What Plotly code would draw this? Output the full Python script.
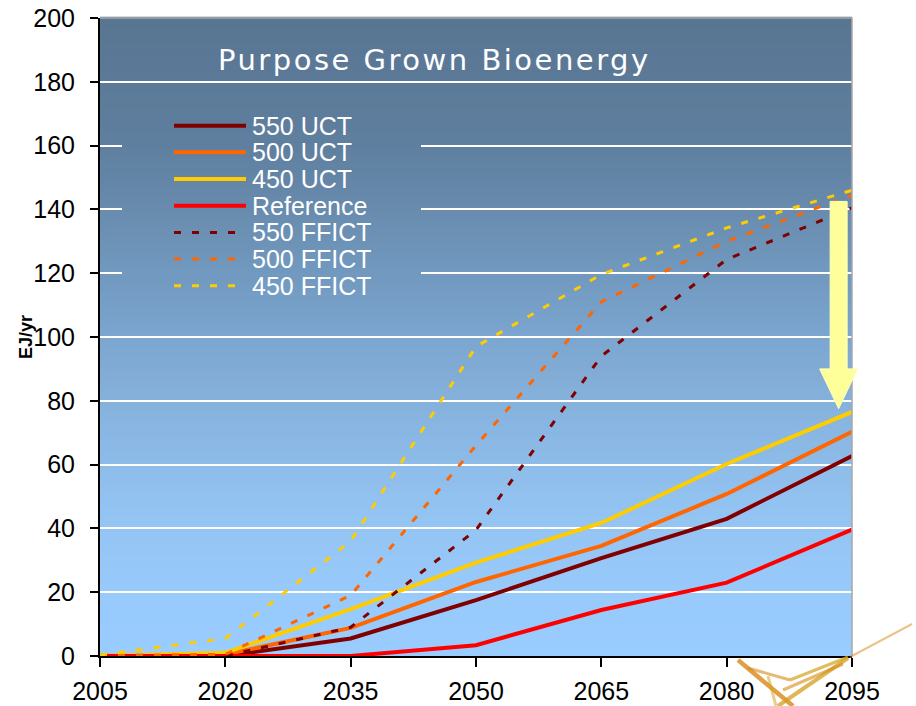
import plotly.graph_objects as go

# ---- data (EJ/yr) ----
YEARS = [2005, 2020, 2035, 2050, 2065, 2080, 2095]
UCT_550 = [0, 0, 5.5, 17.5, 30.7, 43, 62.7]
UCT_500 = [0, 0.5, 8.8, 23.2, 34.5, 50.8, 70.3]
UCT_450 = [0, 1, 14.7, 29.3, 41.7, 60.2, 76.5]
REFERENCE = [0, 0, 0, 3.4, 14.4, 23, 39.6]
FFICT_550 = [0, 0, 9, 39.5, 94, 124.3, 140.5]
FFICT_500 = [0.2, 0.5, 19, 66, 111, 130, 144.5]
FFICT_450 = [0.3, 5.5, 36, 97, 119.6, 134.2, 146]

SERIES_NAMES = ["550 UCT", "500 UCT", "450 UCT", "Reference",
                "550 FFICT", "500 FFICT", "450 FFICT"]
Y_TICKS = list(range(0, 201, 20))
TITLE = "Purpose Grown Bioenergy"
Y_LABEL = "EJ/yr"

# arrow from the FFICT level down to the UCT level near the end of the century
ARROW_YEAR = 2093.4
ARROW_FROM = 142.5
ARROW_TO = 77.5

# ---- styling ----
DARK_RED, ORANGE, GOLD, RED = "#800000", "#FF6600", "#FFCC00", "#FF0000"
series = [
    (UCT_550, DARK_RED, None, 4),
    (UCT_500, ORANGE, None, 4),
    (UCT_450, GOLD, None, 4),
    (REFERENCE, RED, None, 4),
    (FFICT_550, DARK_RED, "7px,11px", 3),
    (FFICT_500, ORANGE, "7px,11px", 3),
    (FFICT_450, GOLD, "7px,11px", 3),
]

W, H = 916, 706
ML, MR, MT, MB = 100, 64, 18, 50
PW, PH = W - ML - MR, H - MT - MB
X0, X1 = YEARS[0], YEARS[-1]
Y0, Y1 = 0, 200

fig = go.Figure()
for (vals, color, dash, width), name in zip(series, SERIES_NAMES):
    fig.add_trace(go.Scatter(
        x=YEARS, y=vals, name=name, mode="lines",
        line=dict(color=color, width=width, dash=dash or "solid"),
        cliponaxis=False, showlegend=False,
    ))

# vertical gradient of the plotting area
GRAD = [(0.0, (153, 204, 255)), (0.09, (152, 202, 252)), (0.245, (146, 194, 240)),
        (0.46, (128, 170, 212)), (0.5, (123, 166, 208)), (0.71, (103, 138, 172)),
        (0.79, (96, 128, 160)), (1.0, (88, 117, 145))]


def grad_color(t):
    for (t0, c0), (t1, c1) in zip(GRAD[:-1], GRAD[1:]):
        if t0 <= t <= t1:
            f = (t - t0) / (t1 - t0)
            return "rgb(%d,%d,%d)" % tuple(round(a + (b - a) * f) for a, b in zip(c0, c1))
    return "rgb(%d,%d,%d)" % GRAD[-1][1]


shapes = []
N = 128
for i in range(N):
    y0, y1 = i / N, (i + 1) / N
    shapes.append(dict(type="rect", xref="paper", yref="paper", x0=0, x1=1,
                       y0=y0, y1=y1 + 0.002, layer="below", line_width=0,
                       fillcolor=grad_color((y0 + y1) / 2)))

# legend box: same gradient, hides the grid lines behind the key
LX0, LX1 = 22 / PW, 321 / PW
LY0, LY1 = (PH - 282) / PH, (PH - 82) / PH
for i in range(N):
    y0, y1 = i / N, (i + 1) / N
    if y1 <= LY0 or y0 >= LY1:
        continue
    shapes.append(dict(type="rect", xref="paper", yref="paper", x0=LX0, x1=LX1,
                       y0=max(y0, LY0), y1=min(y1 + 0.002, LY1), layer="above",
                       line_width=0, fillcolor=grad_color((y0 + y1) / 2)))

# legend key samples
annotations = []
for i, ((vals, color, dash, width), name) in enumerate(zip(series, SERIES_NAMES)):
    ypx = 107.7 + i * 26.67
    yp = (PH - ypx) / PH
    shapes.append(dict(type="line", xref="paper", yref="paper",
                       x0=74 / PW, x1=146 / PW, y0=yp, y1=yp, layer="above",
                       line=dict(color=color, width=width, dash=dash or "solid")))
    annotations.append(dict(text=name, xref="paper", yref="paper", x=151 / PW, y=yp,
                            xanchor="left", yanchor="middle", showarrow=False,
                            height=24, valign="middle", borderpad=0,
                            font=dict(family="Liberation Sans, Arial", size=25, color="white")))

# frame on top and right
shapes.append(dict(type="path", xref="paper", yref="paper", path="M0,1 L1,1 L1,0",
                   line=dict(color="#A8A8A8", width=1.5), layer="above"))

# big arrow
px = (ARROW_YEAR - X0) / (X1 - X0)
sw, hw = 8.5 / PW, 19 / PW
yt, yb, ytip = ARROW_FROM / Y1, (ARROW_TO + 12.5) / Y1, ARROW_TO / Y1
arrow = (f"M{px - sw},{yt} L{px + sw},{yt} L{px + sw},{yb} L{px + hw},{yb} "
         f"L{px},{ytip} L{px - hw},{yb} L{px - sw},{yb} Z")
shapes.append(dict(type="path", xref="paper", yref="paper", path=arrow,
                   fillcolor="#FFFF99", line=dict(color="#FFFFC0", width=1), layer="above"))


# logo strokes in the lower right corner
def pp(x, y):
    return (x - ML) / PW, (PH + MT - y) / PH


logo = [((738, 660), (793, 706), 4.5, 0.8, "#D98A18"),
        ((748, 668), (790, 680), 3, 0.6, "#D98A18"),
        ((790, 680), (848, 657), 3, 0.7, "#D4A020"),
        ((778, 706), (848, 658), 4, 0.75, "#D4A020"),
        ((783, 690), (843, 664), 3, 0.6, "#D98A18"),
        ((850, 657), (912, 624), 2, 0.5, "#D98A18"),
        ((768, 676), (776, 706), 3, 0.5, "#D4A020")]
for (a, b, w, op, c) in logo:
    x0, y0 = pp(*a)
    x1, y1 = pp(*b)
    shapes.append(dict(type="line", xref="paper", yref="paper", x0=x0, y0=y0, x1=x1, y1=y1,
                       line=dict(color=c, width=w), opacity=op, layer="above"))

annotations.append(dict(
    text=f'<span style="letter-spacing:2.5px">{TITLE}</span>',
    xref="paper", yref="paper", x=(434 - ML) / PW, y=(PH + MT - 60) / PH,
    xanchor="center", yanchor="middle", showarrow=False,
    font=dict(family="DejaVu Sans", size=29, color="white")))
annotations.append(dict(
    text=f"<b>{Y_LABEL}</b>", xref="paper", yref="paper", x=(26 - ML) / PW, y=0.5,
    textangle=-90, xanchor="center", yanchor="middle", showarrow=False,
    font=dict(family="Liberation Sans, Arial", size=18, color="black")))

fig.update_layout(
    width=W, height=H, margin=dict(l=ML, r=MR, t=MT, b=MB, autoexpand=False),
    paper_bgcolor="white", plot_bgcolor="#99CCFF",
    shapes=shapes, annotations=annotations, showlegend=False,
    xaxis=dict(range=[X0, X1], tickvals=YEARS, ticktext=[str(y) for y in YEARS],
               automargin=False,
               showgrid=False, zeroline=False, showline=True, linecolor="black",
               linewidth=2, ticks="outside", ticklen=9, tickwidth=1.5, tickcolor="black",
               ticklabelstandoff=3,
               tickfont=dict(family="Liberation Sans, Arial", size=25, color="black")),
    yaxis=dict(range=[Y0, Y1], tickvals=Y_TICKS, showgrid=True, gridcolor="white",
               automargin=False,
               gridwidth=1.5, zeroline=False, showline=True, linecolor="black",
               linewidth=2, ticks="outside", ticklen=8, tickwidth=1.5, tickcolor="black",
               ticklabelstandoff=10,
               tickfont=dict(family="Liberation Sans, Arial", size=25, color="black")),
)

fig.write_html("out.html")
